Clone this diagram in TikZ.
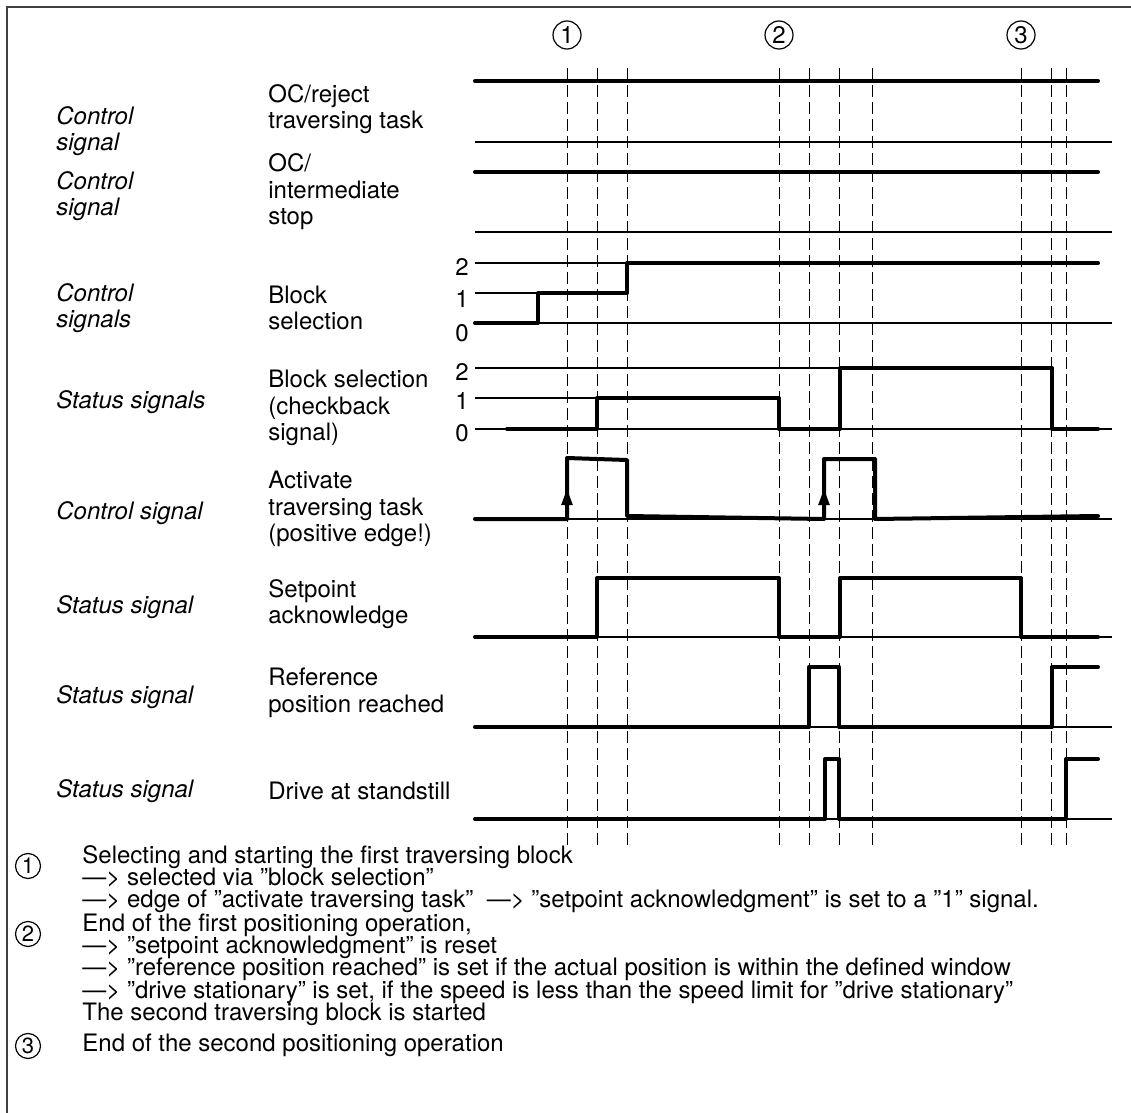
\documentclass[tikz,border=0pt]{standalone}
\usepackage{fontspec}
\setmainfont{TeX Gyre Heros}
\usetikzlibrary{arrows.meta,calc}

\begin{document}
\begin{tikzpicture}[x=.5pt,y=-.5pt,
  sig/.style={line width=2pt,line cap=round,line join=round},
  base/.style={line width=.7pt},
  guide/.style={line width=.5pt,dash pattern=on 6pt off 2.5pt},
  lab/.style={anchor=west,align=left,inner sep=0pt,font=\fontsize{12}{13.3}\selectfont},
  kind/.style={lab,font=\fontsize{12}{13.3}\selectfont\itshape},
  lvl/.style={inner sep=0pt,font=\fontsize{12}{13}\selectfont},
  numc/.style={circle,draw,line width=.6pt,inner sep=0pt,minimum size=14pt,font=\fontsize{12}{12}\selectfont},
  note/.style={anchor=base west,inner sep=0pt,font=\fontsize{12}{13}\selectfont},
  edgetip/.style={line width=1.2pt,-{Triangle[length=8pt,width=5.5pt]}}]
\useasboundingbox (0,0) rectangle (1131,1113);
\draw[line width=.6pt,black!75] (1131,7) -- (7,7) -- (7,1113);

\node[numc] (c1) at (567,35) {1};
\node[numc] (c2) at (779,35) {2};
\node[numc] (c3) at (1021,35) {3};

\foreach \x in {567,597,627,779,809,839,872,1021,1051,1066}
  \draw[guide] (\x,68) -- (\x,848);

% OC signals
\foreach \hi/\lo in {81/142,172/232}{
  \draw[base] (475,\lo) -- (1112,\lo);
  \draw[sig] (475,\hi) -- (1098,\hi);
}

% block selection
\draw[base] (475,263) -- (627,263);
\draw[base] (475,293) -- (538,293);
\draw[base] (475,323) -- (1112,323);
\draw[sig] (475,323) -- (538,323) -- (538,293) -- (627,293) -- (627,263) -- (1098,263);

% checkback
\draw[base] (475,368) -- (840,368);
\draw[base] (475,398) -- (597,398);
\draw[base] (475,429) -- (1112,429);
\draw[sig] (507,429) -- (597,429) -- (597,398) -- (779,398) -- (779,429) -- (840,429)
  -- (840,368) -- (1052,368) -- (1052,429) -- (1098,429);

% activate traversing task
\draw[base] (475,519) -- (1112,519);
\draw[sig] (475,519) -- (567,519) -- (567,458) -- (627,460) -- (627,516) -- (824,519)
  -- (824,459) -- (875,459) -- (875,519) -- (1098,516);
\draw[edgetip] (567,514) -- (567,489);
\draw[edgetip] (824,514) -- (824,489);

% setpoint acknowledge
\draw[base] (475,637) -- (1112,637);
\draw[sig] (475,637) -- (597,637) -- (597,578) -- (779,578) -- (779,637) -- (840,637)
  -- (840,578) -- (1021,578) -- (1021,637) -- (1098,637);

% reference position reached
\draw[base] (475,727) -- (1112,727);
\draw[sig] (475,727) -- (809,727) -- (809,667) -- (839,667) -- (839,727) -- (1052,727)
  -- (1052,667) -- (1098,667);

% standstill
\draw[base] (475,819) -- (1112,819);
\draw[sig] (475,819) -- (825,819) -- (825,759) -- (839,759) -- (839,819) -- (1066,819)
  -- (1066,759) -- (1098,759);

\foreach \v/\y in {2/267,1/299,0/333}
  \node[lvl] (bs\v) at (462,\y) {\v};
\foreach \v/\y in {2/372,1/401,0/433}
  \node[lvl] (cb\v) at (462,\y) {\v};

\node[kind] (k1) at (56,131) {Control\\signal};
\node[kind] (k2) at (56,196) {Control\\signal};
\node[kind] (k3) at (56,308) {Control\\signals};
\node[kind] (k4) at (56,402) {Status signals};
\node[kind] (k5) at (56,513) {Control signal};
\node[kind] (k6) at (56,607) {Status signal};
\node[kind] (k7) at (56,697) {Status signal};
\node[kind] (k8) at (56,791) {Status signal};

\node[lab] (s1) at (268,109) {OC/reject\\traversing task};
\node[lab] (s2) at (268,192) {OC/\\intermediate\\stop};
\node[lab] (s3) at (268,308) {Block\\selection};
\node[lab] (s4) at (268,408) {Block selection\\(checkback\\signal)};
\node[lab] (s5) at (268,509) {Activate\\traversing task\\(positive edge!)};
\node[lab] (s6) at (268,604) {Setpoint\\acknowledge};
\node[lab] (s7) at (268,693) {Reference\\position reached};
\node[lab] (s8) at (268,791) {Drive at standstill};

% legend
\node[numc,minimum size=12.5pt,font=\fontsize{11}{11}\selectfont] (n1) at (28,866) {1};
\node[numc,minimum size=12.5pt,font=\fontsize{11}{11}\selectfont] (n2) at (28,934) {2};
\node[numc,minimum size=12.5pt,font=\fontsize{11}{11}\selectfont] (n3) at (28,1046) {3};
\node[note] (t1a) at (82,863) {Selecting and starting the first traversing block};
\node[note] (t1b) at (82,885) {—> selected via ”block selection”};
\node[note] (t1c) at (82,907) {—> edge of ”activate traversing task”\ \ —> ”setpoint acknowledgment” is set to a ”1” signal.};
\node[note] (t2a) at (82,931) {End of the first positioning operation,};
\node[note] (t2b) at (82,953) {—> ”setpoint acknowledgment” is reset};
\node[note] (t2c) at (82,975) {—> ”reference position reached” is set if the actual position is within the defined window};
\node[note] (t2d) at (82,998) {—> ”drive stationary” is set, if the speed is less than the speed limit for ”drive stationary”};
\node[note] (t2e) at (82,1020) {The second traversing block is started};
\node[note] (t3) at (82,1051) {End of the second positioning operation};
\end{tikzpicture}
\end{document}
